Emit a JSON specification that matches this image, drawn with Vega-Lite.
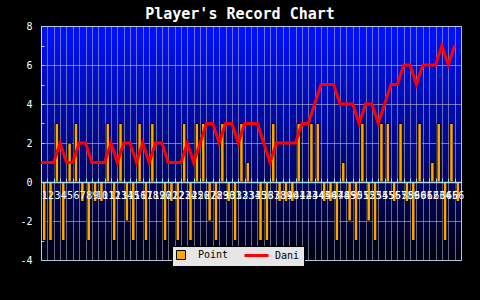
{
  "$schema": "https://vega.github.io/schema/vega-lite/v6.json",
  "width": 420,
  "height": 234,
  "autosize": {"type": "none"},
  "padding": {"left": 41, "top": 26, "right": 19, "bottom": 40},
  "background": "#000000",
  "title": {
    "text": "Player's Record Chart",
    "color": "#ffffff",
    "font": "DejaVu Sans Mono",
    "fontSize": 15,
    "fontWeight": "bold",
    "anchor": "middle",
    "dx": -11,
    "offset": -1
  },
  "config": {
    "view": {
      "fill": {
        "gradient": "linear",
        "x1": 0, "y1": 0, "x2": 0, "y2": 1,
        "stops": [
          {"offset": 0, "color": "#0011ff"},
          {"offset": 1, "color": "#00000f"}
        ]
      },
      "stroke": "#b0c8f0",
      "strokeWidth": 1
    }
  },
  "resolve": {"axis": {"x": "independent"}},
  "data": {
    "values": [
      {"game": 1, "point": -3, "dani": 1},
      {"game": 2, "point": -3, "dani": 1},
      {"game": 3, "point": 3, "dani": 1},
      {"game": 4, "point": -3, "dani": 2},
      {"game": 5, "point": 2, "dani": 1},
      {"game": 6, "point": 3, "dani": 1},
      {"game": 7, "point": -1, "dani": 2},
      {"game": 8, "point": -3, "dani": 2},
      {"game": 9, "point": -1, "dani": 1},
      {"game": 10, "point": -1, "dani": 1},
      {"game": 11, "point": 3, "dani": 1},
      {"game": 12, "point": -3, "dani": 2},
      {"game": 13, "point": 3, "dani": 1},
      {"game": 14, "point": -2, "dani": 2},
      {"game": 15, "point": -3, "dani": 2},
      {"game": 16, "point": 3, "dani": 1},
      {"game": 17, "point": -3, "dani": 2},
      {"game": 18, "point": 3, "dani": 1},
      {"game": 19, "point": null, "dani": 2},
      {"game": 20, "point": -3, "dani": 2},
      {"game": 21, "point": -1, "dani": 1},
      {"game": 22, "point": -3, "dani": 1},
      {"game": 23, "point": 3, "dani": 1},
      {"game": 24, "point": -3, "dani": 2},
      {"game": 25, "point": 3, "dani": 1},
      {"game": 26, "point": 3, "dani": 2},
      {"game": 27, "point": -2, "dani": 3},
      {"game": 28, "point": -3, "dani": 3},
      {"game": 29, "point": 3, "dani": 2},
      {"game": 30, "point": -1, "dani": 3},
      {"game": 31, "point": -3, "dani": 3},
      {"game": 32, "point": 3, "dani": 2},
      {"game": 33, "point": 1, "dani": 3},
      {"game": 34, "point": null, "dani": 3},
      {"game": 35, "point": -3, "dani": 3},
      {"game": 36, "point": -3, "dani": 2},
      {"game": 37, "point": 3, "dani": 1},
      {"game": 38, "point": -1, "dani": 2},
      {"game": 39, "point": -1, "dani": 2},
      {"game": 40, "point": -1, "dani": 2},
      {"game": 41, "point": 3, "dani": 2},
      {"game": 42, "point": null, "dani": 3},
      {"game": 43, "point": 3, "dani": 3},
      {"game": 44, "point": 3, "dani": 4},
      {"game": 45, "point": -1, "dani": 5},
      {"game": 46, "point": -1, "dani": 5},
      {"game": 47, "point": -3, "dani": 5},
      {"game": 48, "point": 1, "dani": 4},
      {"game": 49, "point": -2, "dani": 4},
      {"game": 50, "point": -3, "dani": 4},
      {"game": 51, "point": 3, "dani": 3},
      {"game": 52, "point": -2, "dani": 4},
      {"game": 53, "point": -3, "dani": 4},
      {"game": 54, "point": 3, "dani": 3},
      {"game": 55, "point": 3, "dani": 4},
      {"game": 56, "point": -1, "dani": 5},
      {"game": 57, "point": 3, "dani": 5},
      {"game": 58, "point": -1, "dani": 6},
      {"game": 59, "point": -3, "dani": 6},
      {"game": 60, "point": 3, "dani": 5},
      {"game": 61, "point": null, "dani": 6},
      {"game": 62, "point": 1, "dani": 6},
      {"game": 63, "point": 3, "dani": 6},
      {"game": 64, "point": -3, "dani": 7},
      {"game": 65, "point": 3, "dani": 6},
      {"game": 66, "point": -1, "dani": 7}
    ]
  },
  "layer": [
    {
      "mark": {"type": "bar", "size": 3.5, "stroke": "#000000", "strokeWidth": 1},
      "encoding": {
        "x": {
          "field": "game",
          "type": "ordinal",
          "scale": {"type": "band", "paddingInner": 0, "paddingOuter": 0},
          "axis": {
            "title": null,
            "orient": "bottom",
            "tickBand": "extent",
            "domain": false,
            "ticks": false,
            "labels": false,
            "grid": true,
            "gridColor": "#c0c0d0",
            "gridOpacity": 0.55,
            "zindex": 0
          }
        },
        "y": {
          "field": "point",
          "type": "quantitative",
          "scale": {"domain": [-4, 8], "nice": false, "zero": false},
          "axis": {
            "title": null,
            "values": [-4, -3, -2, -1, 0, 1, 2, 3, 4, 5, 6, 7, 8],
            "tickCount": 20,
            "labelExpr": "datum.value % 2 === 0 ? toString(datum.value) : ''",
            "labelOverlap": false,
            "domainColor": "#99ddee",
            "tickColor": "#99ddee",
            "tickSize": -3,
            "grid": true,
            "gridColor": "#c0c0d0",
            "gridOpacity": {"condition": {"test": "datum.value % 2 === 0", "value": 0.6}, "value": 0},
            "labelColor": "#ffffff",
            "labelFont": "DejaVu Sans Mono",
            "labelFontSize": 10,
            "labelPadding": 12
          }
        },
        "fill": {
          "datum": "Point",
          "scale": {"domain": ["Point"], "range": ["#ffa500"]},
          "legend": {
            "title": "Dani",
            "titleOrient": "right",
            "titlePadding": 47,
            "titleAnchor": "middle",
            "titleBaseline": "middle",
            "titleColor": "#000000",
            "titleFont": "DejaVu Sans Mono",
            "titleFontSize": 10,
            "titleFontWeight": "normal",
            "orient": "none",
            "legendX": 131,
            "legendY": 220,
            "fillColor": "#e6e6e6",
            "strokeColor": "#000000",
            "padding": 4,
            "symbolType": "square",
            "symbolSize": 81,
            "symbolStrokeColor": "#000000",
            "symbolStrokeWidth": 1,
            "labelOffset": 12,
            "labelColor": "#000000",
            "labelFont": "DejaVu Sans Mono",
            "labelFontSize": 10
          }
        }
      }
    },
    {
      "mark": {"type": "line", "strokeWidth": 3},
      "encoding": {
        "x": {
          "field": "game",
          "type": "ordinal",
          "bandPosition": 0,
          "axis": {
            "title": null,
            "orient": "bottom",
            "offset": -78,
            "tickBand": "extent",
            "domainColor": "#a8dcf0",
            "domainWidth": 1.5,
            "tickColor": "#a8dcf0",
            "tickSize": -4,
            "grid": false,
            "labelColor": "#ffffff",
            "labelFont": "DejaVu Sans Mono",
            "labelFontSize": 10,
            "labelAngle": 0,
            "labelOverlap": false,
            "labelBound": false,
            "labelFlush": false,
            "labelPadding": 12,
            "zindex": 1
          }
        },
        "y": {"field": "dani", "type": "quantitative"},
        "stroke": {
          "datum": "Dani",
          "scale": {"domain": ["Dani"], "range": ["#ff0000"]},
          "legend": {
            "title": null,
            "orient": "none",
            "legendX": 202,
            "legendY": 216,
            "padding": 0,
            "symbolType": "stroke",
            "symbolSize": 576,
            "symbolStrokeWidth": 3,
            "labelExpr": "''",
            "labelOffset": 0,
            "zindex": 1
          }
        }
      }
    }
  ]
}
